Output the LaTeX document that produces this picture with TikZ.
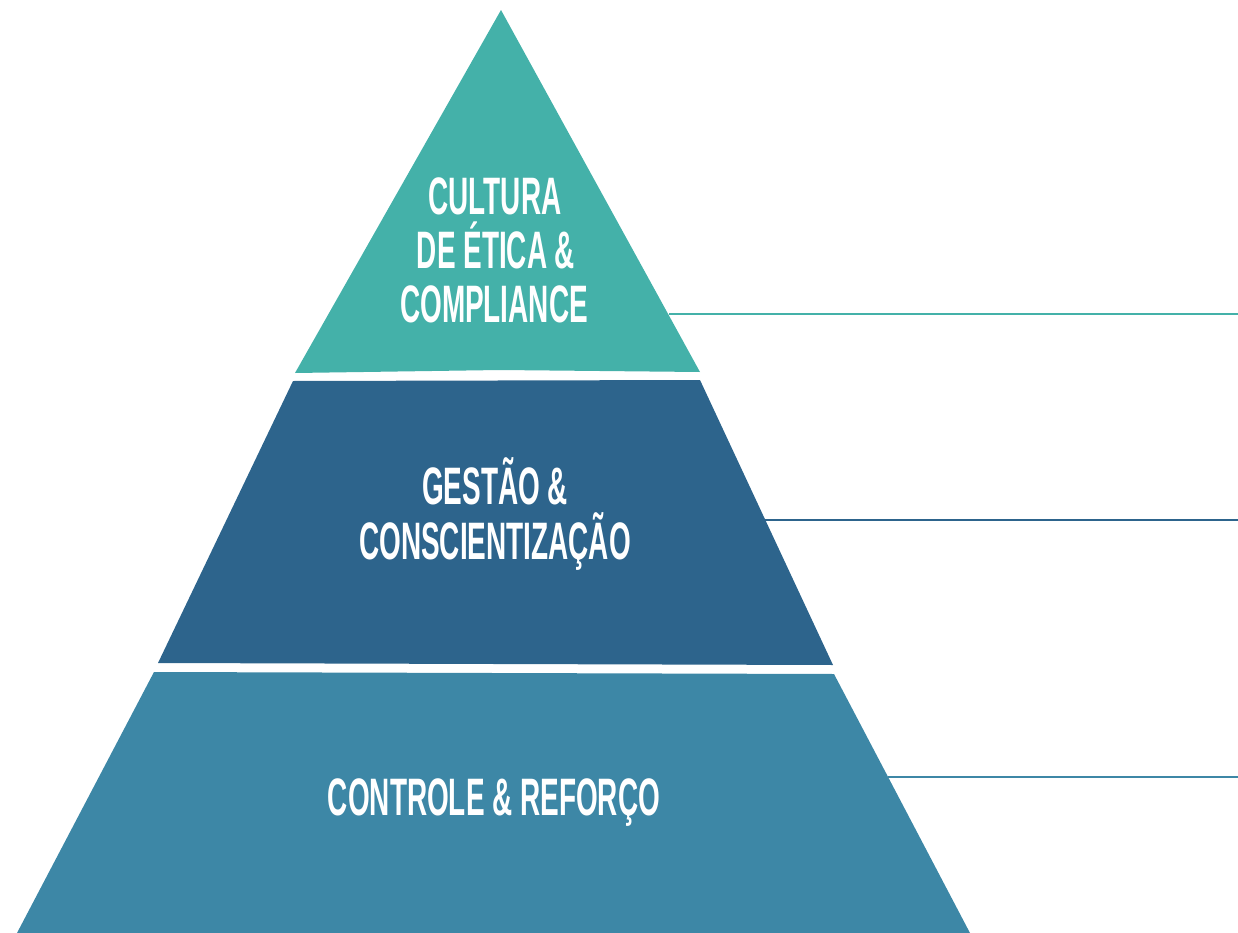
\documentclass[tikz,border=0pt]{standalone}
\usepackage{fontspec}
\usepackage{xcolor}
\setmainfont{Liberation Sans}[BoldFont={* Bold},BoldFeatures={FakeStretch=0.53}]
\definecolor{topteal}{HTML}{44B1A9}
\definecolor{midblue}{HTML}{2D648C}
\definecolor{lowblue}{HTML}{3D87A6}
\tikzset{
	layertext/.style={text=white, font=\bfseries\fontsize{30}{31}\selectfont, align=center, inner sep=0pt},
}

\begin{document}
\begin{tikzpicture}[x=0.02cm, y=-0.02cm]
	\useasboundingbox (0, 0) rectangle (1238, 933);
		% the three layers
		\fill[topteal] (501, 10) -- (700, 372) -- (500, 370) -- (295, 373) -- cycle;
		\fill[midblue] (293, 381) -- (700, 380) -- (833, 665) -- (158, 663) -- cycle;
		\fill[lowblue] (154, 672) -- (834, 674) -- (970, 933) -- (17, 933) -- cycle;
		% labels
		\node[layertext, anchor=base] (cultura) at (495, 214) {CULTURA};
		\node[layertext, anchor=base] (etica) at (496, 268) {DE ÉTICA \&};
		\node[layertext, anchor=base] (compliance) at (494, 322) {COMPLIANCE};
		\node[layertext, anchor=base] (gestao) at (495, 504) {GESTÃO \&};
		\node[layertext, anchor=base] (consc) at (495, 559) {CONSCIENTIZAÇÃO};
		\node[layertext, anchor=base] (controle) at (494, 815) {CONTROLE \& REFORÇO};
		% side lines
		\coordinate (top l) at (669, 313.5);
		\coordinate (top r) at (1238, 313.5);
		\coordinate (mid l) at (764, 519.5);
		\coordinate (mid r) at (1238, 519.5);
		\coordinate (low l) at (888, 776.5);
		\coordinate (low r) at (1238, 776.5);
		\draw[topteal, line width=0.04cm] (top l) -- (top r);
		\draw[midblue, line width=0.04cm] (mid l) -- (mid r);
		\draw[lowblue, line width=0.04cm] (low l) -- (low r);
	\end{tikzpicture}
\end{document}
